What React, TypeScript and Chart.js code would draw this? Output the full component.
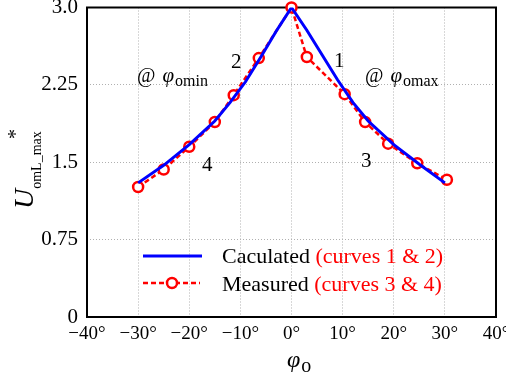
import React, { useEffect, useRef } from 'react';
import { Chart, registerables } from 'chart.js';
Chart.register(...registerables);

// Calculated curves (1 & 2)
const calcX = [-30, -25, -20, -15, -12, -9, -6, -3, 0, 3, 6, 9, 12, 15, 20, 25, 30];
const calcY = [1.30, 1.47, 1.67, 1.90, 2.08, 2.28, 2.52, 2.77, 3.0, 2.78, 2.54, 2.30, 2.08, 1.90, 1.67, 1.48, 1.30];
// Measured curves (3 & 4)
const measX = [-30, -25, -20, -15, -11.3, -6.4, 0, 3, 10.4, 14.4, 18.9, 24.6, 30.4];
const measY = [1.26, 1.43, 1.65, 1.89, 2.15, 2.51, 3.0, 2.52, 2.16, 1.89, 1.68, 1.49, 1.33];

const xTicks = [-40, -30, -20, -10, 0, 10, 20, 30, 40];
const xTickLabels = ['\u221240\u00b0', '\u221230\u00b0', '\u221220\u00b0', '\u221210\u00b0', '0\u00b0', '10\u00b0', '20\u00b0', '30\u00b0', '40\u00b0'];
const yTicks = [0, 0.75, 1.5, 2.25, 3.0];
const yTickLabels = ['0', '0.75', '1.5', '2.25', '3.0'];

const SERIF = '"Liberation Serif", "Times New Roman", serif';

const overlay = {
  id: 'overlay',
  beforeDatasetsDraw(chart: any) {
    const { ctx, chartArea: a } = chart;
    ctx.save();
    ctx.strokeStyle = '#000';
    ctx.lineWidth = 2;
    ctx.strokeRect(a.left, a.top, a.right - a.left, a.bottom - a.top);
    ctx.restore();
  },
  afterDatasetsDraw(chart: any) {
    const { ctx } = chart;
    ctx.save();
    ctx.textBaseline = 'alphabetic';
    ctx.textAlign = 'left';
    ctx.fillStyle = '#000';

    // annotations
    const drawAt = (x: number, y: number, sub: string) => {
      ctx.font = `20px ${SERIF}`;
      ctx.fillText('@', x, y);
      const w1 = ctx.measureText('@ ').width;
      ctx.font = `italic 21px ${SERIF}`;
      ctx.fillText('\u03c6', x + w1 + 2, y);
      const w2 = ctx.measureText('\u03c6').width;
      ctx.font = `16px ${SERIF}`;
      ctx.fillText(sub, x + w1 + 2 + w2 + 1, y + 4);
    };
    drawAt(137, 82, 'omin');
    drawAt(365, 82, 'omax');
    ctx.font = `21px ${SERIF}`;
    ctx.fillText('2', 231, 68);
    ctx.fillText('1', 334, 67);
    ctx.fillText('4', 202, 171);
    ctx.fillText('3', 361, 167);

    // legend
    ctx.strokeStyle = '#0000ff';
    ctx.lineWidth = 3;
    ctx.beginPath();
    ctx.moveTo(143, 256);
    ctx.lineTo(202, 256);
    ctx.stroke();
    ctx.strokeStyle = '#ff0000';
    ctx.lineWidth = 2.5;
    ctx.setLineDash([5, 3]);
    ctx.beginPath();
    ctx.moveTo(143, 283);
    ctx.lineTo(200, 283);
    ctx.stroke();
    ctx.setLineDash([]);
    ctx.fillStyle = '#fff';
    ctx.beginPath();
    ctx.arc(172, 283, 5, 0, Math.PI * 2);
    ctx.fill();
    ctx.stroke();

    const legendText = (x: number, y: number, a1: string, a2: string) => {
      ctx.font = `22px ${SERIF}`;
      ctx.fillStyle = '#000';
      ctx.fillText(a1, x, y);
      const w = ctx.measureText(a1 + ' ').width;
      ctx.fillStyle = '#ff0000';
      ctx.fillText(a2, x + w, y);
    };
    legendText(222, 263, 'Caculated', '(curves 1 & 2)');
    legendText(222, 291, 'Measured', '(curves 3 & 4)');

    // y-axis title
    ctx.fillStyle = '#000';
    ctx.save();
    ctx.translate(33, 209);
    ctx.rotate(-Math.PI / 2);
    ctx.font = `italic 28px ${SERIF}`;
    ctx.fillText('U', 0, 0);
    const uw = ctx.measureText('U').width;
    ctx.font = `14px ${SERIF}`;
    ctx.fillText('omL_max', uw, 8);
    ctx.font = `20px ${SERIF}`;
    ctx.fillText('*', 70, -11);
    ctx.restore();

    // x-axis title
    ctx.font = `italic 24px ${SERIF}`;
    ctx.fillText('\u03c6', 287, 367);
    const pw = ctx.measureText('\u03c6').width;
    ctx.font = `20px ${SERIF}`;
    ctx.fillText('o', 287 + pw + 1, 372);

    ctx.restore();
  },
};

export default function App() {
  const ref = useRef<HTMLCanvasElement | null>(null);
  useEffect(() => {
    document.body.style.margin = '0';
    const canvas = ref.current;
    if (!canvas) return;
    const chart = new Chart(canvas, {
      type: 'line',
      data: {
        datasets: [
          {
            label: 'Caculated',
            data: calcX.map((x, i) => ({ x, y: calcY[i] })),
            borderColor: '#0000ff',
            borderWidth: 3,
            pointRadius: 0,
            tension: 0,
            fill: false,
          },
          {
            label: 'Measured',
            data: measX.map((x, i) => ({ x, y: measY[i] })),
            borderColor: '#ff0000',
            borderWidth: 2.5,
            borderDash: [5, 3],
            pointRadius: 5,
            pointBorderWidth: 2.5,
            pointBorderColor: '#ff0000',
            pointBackgroundColor: '#ffffff',
            tension: 0,
            fill: false,
            clip: false,
          },
        ],
      },
      options: {
        responsive: false,
        animation: false,
        devicePixelRatio: 1,
        layout: { padding: { top: 7, right: 10, left: 0, bottom: 0 } },
        plugins: { legend: { display: false }, tooltip: { enabled: false } },
        scales: {
          x: {
            type: 'linear',
            min: -40,
            max: 40,
            afterBuildTicks: (s: any) => {
              s.ticks = xTicks.map((v) => ({ value: v }));
            },
            afterFit: (s: any) => {
              s.height = 59;
              s.paddingLeft = 0;
              s.paddingRight = 0;
            },
            ticks: {
              callback: (v: any) => xTickLabels[xTicks.indexOf(Number(v))],
              font: { family: SERIF, size: 19 },
              color: '#000',
              maxRotation: 0,
              autoSkip: false,
              padding: 6,
            },
            grid: { color: '#b0b0b0', lineWidth: 1, drawTicks: false },
            border: { display: false, dash: [1, 2] },
          },
          y: {
            type: 'linear',
            min: 0,
            max: 3,
            afterBuildTicks: (s: any) => {
              s.ticks = yTicks.map((v) => ({ value: v }));
            },
            afterFit: (s: any) => {
              s.width = 87;
              s.paddingTop = 0;
              s.paddingBottom = 0;
            },
            ticks: {
              callback: (_v: any, i: number) => yTickLabels[i],
              font: { family: SERIF, size: 21 },
              color: '#000',
              autoSkip: false,
              padding: 9,
            },
            grid: { color: '#b0b0b0', lineWidth: 1, drawTicks: false },
            border: { display: false, dash: [1, 2] },
          },
        },
      },
      plugins: [overlay],
    });
    return () => chart.destroy();
  }, []);
  return <canvas ref={ref} width={506} height={376} style={{ display: 'block', width: 506, height: 376 }} />;
}
